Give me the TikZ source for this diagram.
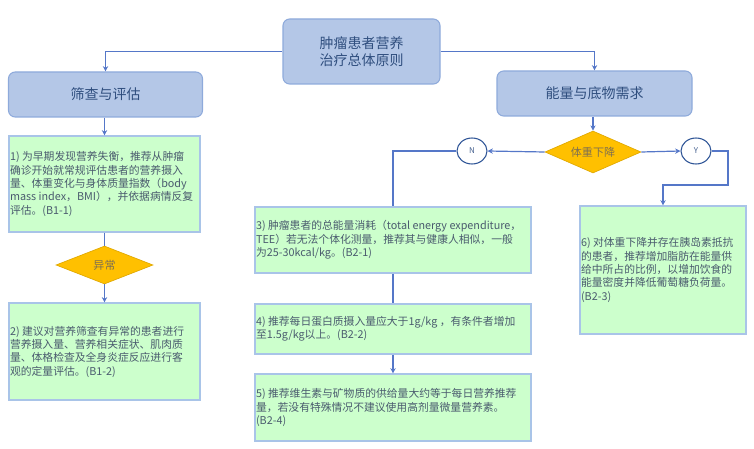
\documentclass[tikz,border=0pt]{standalone}
\usepackage{fontspec}
\setmainfont{Noto Sans CJK SC}
\usetikzlibrary{shapes.geometric,arrows.meta}
\definecolor{bfill}{HTML}{B4C7E7}
\definecolor{bdraw}{HTML}{8EAADB}
\definecolor{btext}{HTML}{2F4E7E}
\definecolor{gfill}{HTML}{CCFFCC}
\definecolor{gdraw}{HTML}{A9C4E8}
\definecolor{gtextc}{HTML}{4A5B6E}
\definecolor{dfill}{HTML}{FFC000}
\definecolor{ddraw}{HTML}{E0A800}
\definecolor{dtext}{HTML}{7F7050}
\definecolor{lcol}{HTML}{5577C8}
\definecolor{ccol}{HTML}{2F5597}
\tikzset{
  bluebox/.style={draw=bdraw, fill=bfill, rounded corners=5pt, line width=0.8pt, text=btext, font=\fontsize{10.5}{12.75}\selectfont, align=center, inner sep=0pt},
  greenbox/.style={draw=gdraw, fill=gfill, line width=0.8pt, inner sep=0pt},
  gtext/.style={anchor=west, align=left, text=gtextc, font=\fontsize{8.1}{10}\selectfont, inner xsep=1pt, inner ysep=0pt},
  decide/.style={diamond, draw=ddraw, fill=dfill, line width=0.5pt, inner sep=0pt, aspect=2.3, text=dtext, font=\fontsize{8.3}{10}\selectfont},
  yn/.style={ellipse, draw=ccol, fill=white, line width=0.8pt, minimum width=22.5pt, minimum height=19.5pt, inner sep=0pt, text=ccol!70!gray, font=\fontsize{6}{7}\selectfont},
  conn/.style={draw=lcol, line width=1.3pt},
  arr/.style={conn, -{Stealth[length=4pt,width=4pt]}},
}
\begin{document}
\begin{tikzpicture}[x=0.75pt,y=-0.75pt]
\useasboundingbox (0,0) rectangle (754,449);
% top level
\node[bluebox, minimum width=117.75pt, minimum height=48.75pt] (top) at (361.5,51.5) {肿瘤患者营养\\治疗总体原则};
\node[bluebox, minimum width=145.5pt, minimum height=33.75pt] (left) at (105.5,94.5) {筛查与评估};
\node[bluebox, minimum width=146.25pt, minimum height=33.75pt] (right) at (594.5,93.5) {能量与底物需求};
\draw[arr] (top.west) -| (left.north);
\draw[arr] (top.east) -| (right.north);
% left column
\node[greenbox, minimum width=143.25pt, minimum height=72pt] (b1) at (104.5,184) {};
\node[gtext] (t1) at (b1.west) {1) 为早期发现营养失衡，推荐从肿瘤\\确诊开始就常规评估患者的营养摄入\\量、体重变化与身体质量指数（body\\mass index，BMI），并依据病情反复\\评估。(B1-1)};
\node[decide, minimum width=72.75pt, minimum height=28.5pt] (d1) at (104.5,265) {异常};
\node[greenbox, minimum width=143.25pt, minimum height=72.75pt] (b2) at (104.5,351.5) {};
\node[gtext] (t2) at (b2.west) {2) 建议对营养筛查有异常的患者进行\\营养摄入量、营养相关症状、肌肉质\\量、体格检查及全身炎症反应进行客\\观的定量评估。(B1-2)};
\draw[arr] (left.south -| b1.north) -- (b1.north);
\draw[conn] (b1.south) -- (d1.north);
\draw[arr] (d1.south) -- (b2.north);
% right part
\node[decide, minimum width=72pt, minimum height=31.5pt] (d2) at (593,152) {体重下降};
\node[yn] (n) at (472,151) {N};
\node[yn] (y) at (696,151) {Y};
\draw[arr] (d2.north |- right.south) -- (d2.north);
\draw[arr, line width=0.9pt] (d2.west) -- (n.east);
\draw[arr, line width=0.9pt] (d2.east) -- (y.west);
\node[greenbox, minimum width=207pt, minimum height=49.5pt] (b3) at (393,240) {};
\node[gtext] (t3) at (b3.west) {3) 肿瘤患者的总能量消耗（total energy expenditure，\\TEE）若无法个体化测量，推荐其与健康人相似，一般\\为25-30kcal/kg。(B2-1)};
\node[greenbox, minimum width=207pt, minimum height=37.5pt] (b4) at (393,329) {};
\node[gtext] (t4) at (b4.west) {4) 推荐每日蛋白质摄入量应大于1g/kg ，有条件者增加\\至1.5g/kg以上。(B2-2)};
\node[greenbox, minimum width=207pt, minimum height=50.25pt] (b5) at (393,407.5) {};
\node[gtext] (t5) at (b5.west) {5) 推荐维生素与矿物质的供给量大约等于每日营养推荐\\量，若没有特殊情况不建议使用高剂量微量营养素。\\(B2-4)};
\node[greenbox, minimum width=124.5pt, minimum height=96pt] (b6) at (663,270) {};
\node[gtext] (t6) at (b6.west) {6) 对体重下降并存在胰岛素抵抗\\的患者，推荐增加脂肪在能量供\\给中所占的比例，以增加饮食的\\能量密度并降低葡萄糖负荷量。\\(B2-3)};
\draw[conn] (n.west) -| (b3.north);
\draw[conn] (b3.south) -- (b4.north);
\draw[arr] (b4.south) -- (b5.north);
\coordinate (yc1) at (728,151);
\coordinate (yc2) at (728,185);
\draw[arr] (y.east) -- (yc1) -- (yc2) -| (b6.north);
\end{tikzpicture}
\end{document}
